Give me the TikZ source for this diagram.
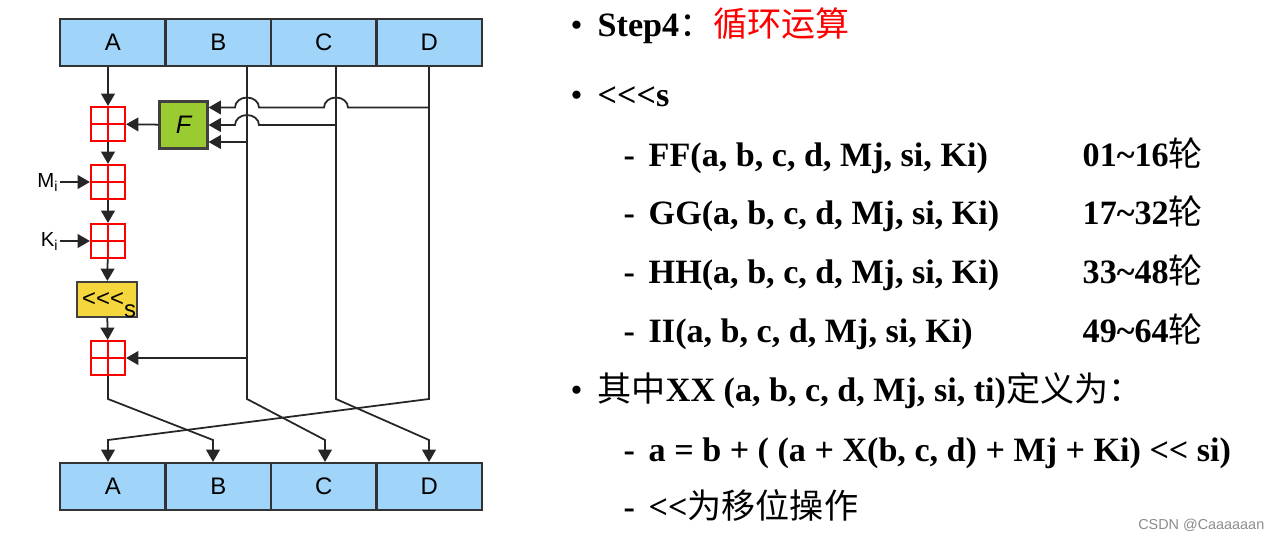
\documentclass[tikz,border=0pt]{standalone}
\usepackage{fontspec}
\setmainfont{Liberation Serif}[Ligatures=TeXOff]
\setsansfont{Liberation Sans}[Ligatures=TeXOff]
\newfontfamily\cjk{Noto Sans CJK SC}
\usetikzlibrary{arrows.meta}
\definecolor{regblue}{RGB}{160,213,249}
\definecolor{fgreen}{RGB}{154,204,50}
\definecolor{rotyellow}{RGB}{245,214,60}
\newcommand{\zh}[1]{{\cjk\mdseries #1}}

\begin{document}
\begin{tikzpicture}
  [x=0.01cm,y=-0.01cm,
   reg/.style={draw=black!80,fill=regblue,line width=0.6pt,minimum width=1.055cm,minimum height=0.47cm,inner sep=0pt,font=\sffamily\fontsize{6.8}{7}\selectfont},
   adder/.style={draw=red,fill=white,line width=0.6pt,minimum size=0.34cm,inner sep=0pt,
     path picture={\draw[red,line width=0.6pt] (path picture bounding box.north) -- (path picture bounding box.south)
       (path picture bounding box.west) -- (path picture bounding box.east);}},
   fnode/.style={draw=black!75,fill=fgreen,line width=0.6pt,minimum width=0.48cm,minimum height=0.47cm,inner sep=0pt,font=\sffamily\itshape\fontsize{7.2}{8}\selectfont},
   shiftbox/.style={draw=black!75,fill=rotyellow,line width=0.6pt,text width=0.58cm,align=right,inner xsep=0.01cm,inner ysep=0pt,minimum height=0.35cm,font=\sffamily\fontsize{6.8}{7}\selectfont},
   lbl/.style={inner sep=0pt,font=\sffamily\fontsize{5.8}{6}\selectfont},
   arr/.style={line width=0.5pt,draw=black!85,-{Triangle[length=3.5pt,width=3.9pt]}},
   wire/.style={line width=0.5pt,draw=black!85},
   txt/.style={anchor=base west,inner sep=0pt,font=\bfseries\fontsize{9.7}{11}\selectfont},
   dot/.style={anchor=base west,inner sep=0pt,font=\fontsize{9.7}{11}\selectfont}]

  \useasboundingbox (0,0) rectangle (1270,540);
  \fill[white] (0,0) rectangle (1270,540);

  \foreach \n/\x in {A/112.75,B/218.25,C/323.75,D/429.25} {
    \node[reg] (t\n) at (\x,42.5) {\n};
    \node[reg] (b\n) at (\x,486.5) {\n};
  }

  \node[adder] (a1) at (108,124) {};
  \node[adder] (a2) at (108,182) {};
  \node[adder] (a3) at (108,241) {};
  \node[shiftbox] (r) at (107,299.5) {\raisebox{-0.1em}{<<<}\smash{\raisebox{-0.55em}{s}}};
  \node[adder] (a4) at (108,358) {};
  \node[fnode] (f) at (183.5,125) {F};
  \node[lbl,anchor=base east] (mi) at (60,188) {M\textsubscript{i}};
  \node[lbl,anchor=base east] (ki) at (60,247) {K\textsubscript{i}};

  \foreach \n/\x in {A/108,B/247,C/336,D/429}
    \coordinate (k\n) at (\x,399);
  \foreach \n/\x in {A/108,B/213,C/325,D/429}
    \coordinate (j\n) at (\x,440);
  \coordinate (i1) at ([yshift=0.175cm]f.east);
  \coordinate (i2) at (f.east);
  \coordinate (i3) at ([yshift=-0.17cm]f.east);

  \draw[arr] (a1 |- tA.south) -- (a1);
  \foreach \from/\to in {a1/a2,a2/a3,a3/r,r/a4}
    \draw[arr] (\from) -- (\to);
  \draw[arr] (f) -- (a1);
  \draw[arr] (mi.east |- a2) -- (a2);
  \draw[arr] (ki.east |- a3) -- (a3);

  \draw[arr] (a4) -- (kA) -- (jB) -- (jB |- bB.north);
  \foreach \s/\d in {B/C,C/D,D/A}
    \draw[arr] (k\s |- t\s.south) -- (k\s) -- (j\d) -- (j\d |- b\d.north);
  \draw[arr] (kB |- a4) -- (a4);

  \draw[arr] (kD |- i1) -- ++(-81,0) arc[start angle=0,end angle=-180,x radius=12,y radius=10]
    -- ++(-65,0) arc[start angle=0,end angle=-180,x radius=12,y radius=10] -- (i1);
  \draw[arr] (kC |- i2) -- ++(-77,0) arc[start angle=0,end angle=-180,x radius=12,y radius=10] -- (i2);
  \draw[arr] (kB |- i3) -- (i3);

  \node[dot] (p1) at (570,37) {\textbullet};
  \node[txt] (s4) at (597,37) {Step4\zh{：}\textcolor{red}{\zh{循环运算}}};
  \node[dot] (p2) at (570,107) {\textbullet};
  \node[txt] (rs) at (597,107) {<<<s};
  \node[txt] (d1) at (623,167) {-};
  \node[txt] (ff) at (648,167) {FF(a, b, c, d, Mj, si, Ki)};
  \node[txt] (n1) at (1082,167) {01\textasciitilde 16\zh{轮}};
  \node[txt] (d2) at (623,225) {-};
  \node[txt] (gg) at (648,225) {GG(a, b, c, d, Mj, si, Ki)};
  \node[txt] (n2) at (1082,225) {17\textasciitilde 32\zh{轮}};
  \node[txt] (d3) at (623,284) {-};
  \node[txt] (hh) at (648,284) {HH(a, b, c, d, Mj, si, Ki)};
  \node[txt] (n3) at (1082,284) {33\textasciitilde 48\zh{轮}};
  \node[txt] (d4) at (623,343) {-};
  \node[txt] (ii) at (648,343) {II(a, b, c, d, Mj, si, Ki)};
  \node[txt] (n4) at (1082,343) {49\textasciitilde 64\zh{轮}};
  \node[dot] (p3) at (570,402) {\textbullet};
  \node[txt] (xx) at (597,402) {\zh{其中}XX (a, b, c, d, Mj, si, ti)\zh{定义为：}};
  \node[txt] (d5) at (623,462) {-};
  \node[txt] (eq) at (648,462) {a = b + ( (a + X(b, c, d) + Mj + Ki) << si)};
  \node[txt] (d6) at (623,518) {-};
  \node[txt] (op) at (648,518) {<<\zh{为移位操作}};
  \node[anchor=base east,inner sep=0pt,font=\sffamily\fontsize{4.1}{5}\selectfont,text=black!45] (wm) at (1265,529) {CSDN @Caaaaaan};
\end{tikzpicture}
\end{document}
